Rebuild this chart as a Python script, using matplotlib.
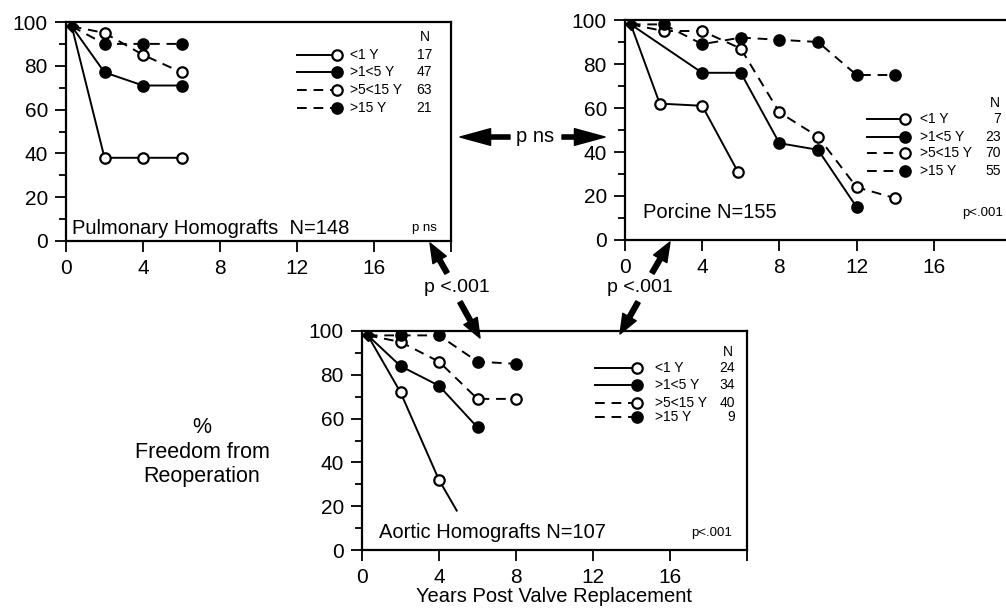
import matplotlib
matplotlib.use('Agg')
import matplotlib.pyplot as plt
from matplotlib.patches import FancyArrowPatch

plt.rcParams['font.family'] = ['Liberation Sans', 'DejaVu Sans']

# ---- data (years, % freedom from reoperation) ----
groups = ['<1 Y', '>1<5 Y', '>5<15 Y', '>15 Y']

pulm_x = [[0.3, 2, 4, 6], [0.3, 2, 4, 6], [0.3, 2, 4, 6], [0.3, 2, 4, 6]]
pulm_y = [[98, 38, 38, 38], [98, 77, 71, 71], [98, 95, 85, 77], [98, 90, 90, 90]]
pulm_n = [17, 47, 63, 21]

porc_x = [[0.3, 1.8, 4, 5.85],
          [0.3, 4, 6, 8, 10, 12],
          [0.3, 2, 4, 6, 8, 10, 12, 14],
          [0.3, 2, 4, 6, 8, 10, 12, 14]]
porc_y = [[98, 62, 61, 31],
          [98, 76, 76, 44, 41, 15],
          [98, 95, 95, 87, 58, 47, 24, 19],
          [98, 98, 89, 92, 91, 90, 75, 75]]
porc_n = [7, 23, 70, 55]

aort_x = [[0.3, 2, 4, 4.92], [0.3, 2, 4, 6], [0.3, 2, 4, 6, 8], [0.3, 2, 4, 6, 8]]
aort_y = [[98, 72, 32, 18], [98, 84, 75, 56], [98, 95, 86, 69, 69], [98, 98, 98, 86, 85]]
aort_n = [24, 34, 40, 9]

# last point of aortic <1 Y has no marker (line continues past last datum)
aort_marker_last = [False, True, True, True]

styles = [('-', 'white'), ('-', 'black'), ((0, (5, 3.5)), 'white'), ((0, (5, 3.5)), 'black')]

W, H = 1006, 611
fig = plt.figure(figsize=(W / 100, H / 100), dpi=100)


def px(x, y):
    return (x / W, 1 - y / H)


def make_axes(x0, ytop, w, h):
    ax = fig.add_axes([x0 / W, 1 - (ytop + h) / H, w / W, h / H])
    ax.set_xlim(0, 20)
    ax.set_ylim(0, 100)
    ax.set_xticks([0, 4, 8, 12, 16, 20])
    ax.set_xticklabels(['0', '4', '8', '12', '16', ''])
    ax.set_yticks([0, 20, 40, 60, 80, 100])
    ax.set_yticks(range(10, 100, 20), minor=True)
    ax.tick_params(axis='both', which='major', labelsize=15, width=1.3, length=8, pad=5)
    ax.tick_params(axis='y', which='minor', width=1.3, length=5)
    ax.tick_params(axis='x', which='major', pad=5)
    for s in ax.spines.values():
        s.set_linewidth(1.6)
    return ax


def draw_series(ax, xs, ys, marker_last=None):
    for i, (x, y) in enumerate(zip(xs, ys)):
        ls, fc = styles[i]
        ax.plot(x, y, linestyle=ls, color='black', lw=1.4, zorder=2)
        n = len(x) if (marker_last is None or marker_last[i]) else len(x) - 1
        ax.plot(x[1:n], y[1:n], linestyle='none', marker='o', ms=7.5, mfc=fc,
                mec='black', mew=1.6, zorder=3)
    ax.plot([x[0]], [y[0]], linestyle='none', marker='D', ms=6, color='black', zorder=3)


def draw_legend(ax, lx0, lx1, tx, nx, nhx, nhy, rows, counts):
    ax.text(nhx, nhy, 'N', transform=ax.transAxes, fontsize=10, ha='center', va='center')
    for i, (lab, n) in enumerate(zip(groups, counts)):
        ls, fc = styles[i]
        ax.plot([lx0, lx1], [rows[i], rows[i]], transform=ax.transAxes, linestyle=ls,
                color='black', lw=1.4, clip_on=False)
        ax.plot([lx1], [rows[i]], transform=ax.transAxes, marker='o', ms=7.5, mfc=fc,
                mec='black', mew=1.6, clip_on=False)
        ax.text(tx, rows[i], lab, transform=ax.transAxes, fontsize=10, va='center')
        ax.text(nx, rows[i], str(n), transform=ax.transAxes, fontsize=10, va='center', ha='right')


# top-left: pulmonary homografts
ax1 = make_axes(66, 22, 385, 219)
draw_series(ax1, pulm_x, pulm_y)
draw_legend(ax1, 0.60, 0.704, 0.738, 0.951, 0.933, 0.932, [0.849, 0.772, 0.689, 0.607], pulm_n)
ax1.text(0.016, 0.059, 'Pulmonary Homografts  N=148', transform=ax1.transAxes,
         fontsize=14.5, va='center')
ax1.text(0.932, 0.059, 'p ns', transform=ax1.transAxes, fontsize=9.5, va='center', ha='center')

# top-right: porcine
ax2 = make_axes(625, 20, 386, 220)
draw_series(ax2, porc_x, porc_y)
draw_legend(ax2, 0.627, 0.725, 0.765, 0.973, 0.959, 0.624, [0.55, 0.47, 0.394, 0.315], porc_n)
ax2.text(0.047, 0.123, 'Porcine N=155', transform=ax2.transAxes, fontsize=14.5, va='center')
ax2.text(0.927, 0.123, 'p<.001', transform=ax2.transAxes, fontsize=9.5, va='center', ha='center')

# bottom: aortic homografts
ax3 = make_axes(362, 331, 385, 219)
draw_series(ax3, aort_x, aort_y, aort_marker_last)
draw_legend(ax3, 0.605, 0.714, 0.761, 0.969, 0.951, 0.905, [0.829, 0.752, 0.669, 0.606], aort_n)
ax3.text(0.044, 0.078, 'Aortic Homografts N=107', transform=ax3.transAxes,
         fontsize=14.5, va='center')
ax3.text(0.909, 0.078, 'p<.001', transform=ax3.transAxes, fontsize=9.5, va='center', ha='center')
ax3.set_xlabel('Years Post Valve Replacement', fontsize=14.5, labelpad=0)

fig.text(*px(202, 452), '%\nFreedom from\nReoperation', fontsize=15.5, ha='center',
         va='center', multialignment='center', linespacing=1.2)


# comparison arrows
def arrow(p0, p1, hl, hw, tw):
    a = FancyArrowPatch(px(*p0), px(*p1), transform=fig.transFigure,
                        arrowstyle=f'simple,head_length={hl},head_width={hw},tail_width={tw}',
                        color='black', shrinkA=0, shrinkB=0, mutation_scale=1)
    fig.add_artist(a)


arrow((510, 137), (460, 137), 22, 12, 3)
arrow((562, 137), (605, 137), 22, 12, 3)
fig.text(*px(535, 137), 'p ns', fontsize=14.5, ha='center', va='center')

arrow((447, 273), (430, 243), 14, 11, 3.5)
arrow((460, 302), (480, 338), 14, 11, 3.5)
fig.text(*px(457, 288), 'p <.001', fontsize=14, ha='center', va='center')

arrow((652, 273), (670, 242), 14, 11, 3.5)
arrow((638, 302), (620, 334), 14, 11, 3.5)
fig.text(*px(640, 288), 'p <.001', fontsize=14, ha='center', va='center')

fig.savefig('out.png', dpi=100)
